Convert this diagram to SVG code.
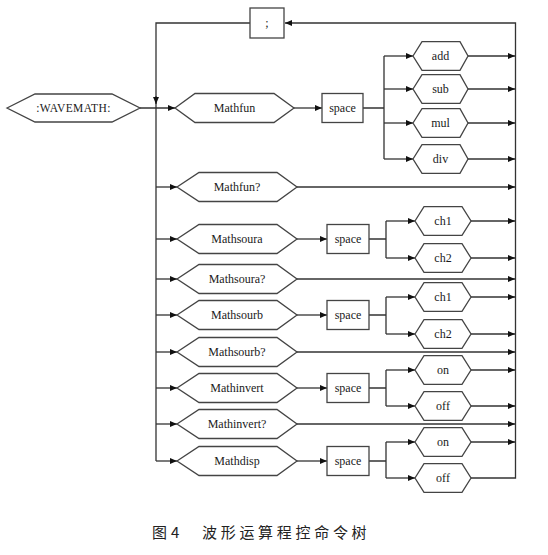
<svg xmlns="http://www.w3.org/2000/svg" width="548" height="555" viewBox="0 0 548 555">
<style>
.n{fill:#fff;stroke:#444;stroke-width:1.3}
.t{font-family:'Liberation Serif','Times New Roman',serif;font-size:12px;fill:#1a1a1a;text-anchor:middle;dominant-baseline:central}
.c{fill:none;stroke:#333;stroke-width:1.3}
.cap{font-family:'Noto Sans CJK SC',sans-serif;font-size:15px;fill:#222}
</style>
<defs>
<marker id="a" markerWidth="8" markerHeight="8" refX="7" refY="4" orient="auto" markerUnits="userSpaceOnUse"><path d="M0,1 L7,4 L0,7 z" fill="#111"/></marker>
</defs>
<rect width="548" height="555" fill="#fff"/>
<g id="connectors">
<path class="c" d="M471,478 H515.5 V23 H285" marker-end="url(#a)"/>
<path class="c" d="M250,23 H156 V461"/>
<path class="c" d="M156,96 V104" marker-end="url(#a)"/>
<path class="c" d="M140,108 H175" marker-end="url(#a)"/>
<path class="c" d="M156,187 H177" marker-end="url(#a)"/>
<path class="c" d="M156,239 H177" marker-end="url(#a)"/>
<path class="c" d="M156,279 H177" marker-end="url(#a)"/>
<path class="c" d="M156,315 H177" marker-end="url(#a)"/>
<path class="c" d="M156,352 H177" marker-end="url(#a)"/>
<path class="c" d="M156,388 H177" marker-end="url(#a)"/>
<path class="c" d="M156,424 H177" marker-end="url(#a)"/>
<path class="c" d="M156,461 H177" marker-end="url(#a)"/>
<path class="c" d="M294,108 H322" marker-end="url(#a)"/>
<path class="c" d="M363,108 H384 M384,56 V159"/>
<path class="c" d="M384,56 H413" marker-end="url(#a)"/>
<path class="c" d="M384,89 H413" marker-end="url(#a)"/>
<path class="c" d="M384,123 H413" marker-end="url(#a)"/>
<path class="c" d="M384,159 H413" marker-end="url(#a)"/>
<path class="c" d="M468,56 H515" marker-end="url(#a)"/>
<path class="c" d="M468,89 H515" marker-end="url(#a)"/>
<path class="c" d="M468,123 H515" marker-end="url(#a)"/>
<path class="c" d="M468,159 H515" marker-end="url(#a)"/>
<path class="c" d="M297,187 H515" marker-end="url(#a)"/>
<path class="c" d="M297,279 H515" marker-end="url(#a)"/>
<path class="c" d="M297,352 H515" marker-end="url(#a)"/>
<path class="c" d="M297,424 H515" marker-end="url(#a)"/>
<path class="c" d="M297,239 H327" marker-end="url(#a)"/>
<path class="c" d="M297,315 H327" marker-end="url(#a)"/>
<path class="c" d="M297,388 H327" marker-end="url(#a)"/>
<path class="c" d="M297,461 H327" marker-end="url(#a)"/>
<path class="c" d="M369,239 H386 M386,221 V258 M369,315 H386 M386,297 V334 M369,388 H386 M386,370 V406 M369,461 H386 M386,442 V478"/>
<path class="c" d="M386,221 H415" marker-end="url(#a)"/>
<path class="c" d="M386,258 H415" marker-end="url(#a)"/>
<path class="c" d="M386,297 H415" marker-end="url(#a)"/>
<path class="c" d="M386,334 H415" marker-end="url(#a)"/>
<path class="c" d="M386,370 H415" marker-end="url(#a)"/>
<path class="c" d="M386,406 H415" marker-end="url(#a)"/>
<path class="c" d="M386,442 H415" marker-end="url(#a)"/>
<path class="c" d="M386,478 H415" marker-end="url(#a)"/>
<path class="c" d="M471,221 H515" marker-end="url(#a)"/>
<path class="c" d="M471,258 H515" marker-end="url(#a)"/>
<path class="c" d="M471,297 H515" marker-end="url(#a)"/>
<path class="c" d="M471,334 H515" marker-end="url(#a)"/>
<path class="c" d="M471,370 H515" marker-end="url(#a)"/>
<path class="c" d="M471,406 H515" marker-end="url(#a)"/>
<path class="c" d="M471,442 H515" marker-end="url(#a)"/>
</g>
<g id="semicolon"><rect class="n" x="250" y="8" width="34" height="30"/><text class="t" x="267" y="23">;</text></g>
<g id="wavemath"><polygon class="n" points="7,108 35,94 112,94 140,108 112,122 35,122"/><text class="t" x="73.5" y="108" style="font-size:11.5px;letter-spacing:0.4px">:WAVEMATH:</text></g>
<g id="mathfun"><polygon class="n" points="175,108 195,93.5 274,93.5 294,108 274,122.5 195,122.5"/><text class="t" x="234.5" y="108">Mathfun</text></g>
<g id="space1"><rect class="n" x="322" y="93.5" width="41" height="29"/><text class="t" x="342.5" y="108">space</text></g>
<g id="add"><polygon class="n" points="413,56 422,41.7 460,41.7 468,56 460,70.3 422,70.3"/><text class="t" x="440.5" y="56">add</text></g>
<g id="sub"><polygon class="n" points="413,89 422,74.7 460,74.7 468,89 460,103.3 422,103.3"/><text class="t" x="440.5" y="89">sub</text></g>
<g id="mul"><polygon class="n" points="413,123 422,108.7 460,108.7 468,123 460,137.3 422,137.3"/><text class="t" x="440.5" y="123">mul</text></g>
<g id="div"><polygon class="n" points="413,159 422,144.7 460,144.7 468,159 460,173.3 422,173.3"/><text class="t" x="440.5" y="159">div</text></g>
<g id="mathfunq"><polygon class="n" points="177,187 199,172.5 277,172.5 297,187 277,201.5 199,201.5"/><text class="t" x="237" y="187">Mathfun?</text></g>
<g id="mathsoura"><polygon class="n" points="177,239 199,224.5 277,224.5 297,239 277,253.5 199,253.5"/><text class="t" x="237" y="239">Mathsoura</text></g>
<g id="space2"><rect class="n" x="327" y="224.5" width="42" height="29"/><text class="t" x="348" y="239">space</text></g>
<g id="ch1a"><polygon class="n" points="415,221 424,206.7 462,206.7 471,221 462,235.3 424,235.3"/><text class="t" x="443" y="221">ch1</text></g>
<g id="ch2a"><polygon class="n" points="415,258 424,243.7 462,243.7 471,258 462,272.3 424,272.3"/><text class="t" x="443" y="258">ch2</text></g>
<g id="mathsouraq"><polygon class="n" points="177,279 199,264.5 277,264.5 297,279 277,293.5 199,293.5"/><text class="t" x="237" y="279">Mathsoura?</text></g>
<g id="mathsourb"><polygon class="n" points="177,315 199,300.5 277,300.5 297,315 277,329.5 199,329.5"/><text class="t" x="237" y="315">Mathsourb</text></g>
<g id="space3"><rect class="n" x="327" y="300.5" width="42" height="29"/><text class="t" x="348" y="315">space</text></g>
<g id="ch1b"><polygon class="n" points="415,297 424,282.7 462,282.7 471,297 462,311.3 424,311.3"/><text class="t" x="443" y="297">ch1</text></g>
<g id="ch2b"><polygon class="n" points="415,334 424,319.7 462,319.7 471,334 462,348.3 424,348.3"/><text class="t" x="443" y="334">ch2</text></g>
<g id="mathsourbq"><polygon class="n" points="177,352 199,337.5 277,337.5 297,352 277,366.5 199,366.5"/><text class="t" x="237" y="352">Mathsourb?</text></g>
<g id="mathinvert"><polygon class="n" points="177,388 199,373.5 277,373.5 297,388 277,402.5 199,402.5"/><text class="t" x="237" y="388">Mathinvert</text></g>
<g id="space4"><rect class="n" x="327" y="373.5" width="42" height="29"/><text class="t" x="348" y="388">space</text></g>
<g id="on1"><polygon class="n" points="415,370 424,355.7 462,355.7 471,370 462,384.3 424,384.3"/><text class="t" x="443" y="370">on</text></g>
<g id="off1"><polygon class="n" points="415,406 424,391.7 462,391.7 471,406 462,420.3 424,420.3"/><text class="t" x="443" y="406">off</text></g>
<g id="mathinvertq"><polygon class="n" points="177,424 199,409.5 277,409.5 297,424 277,438.5 199,438.5"/><text class="t" x="237" y="424">Mathinvert?</text></g>
<g id="mathdisp"><polygon class="n" points="177,461 199,446.5 277,446.5 297,461 277,475.5 199,475.5"/><text class="t" x="237" y="461">Mathdisp</text></g>
<g id="space5"><rect class="n" x="327" y="446.5" width="42" height="29"/><text class="t" x="348" y="461">space</text></g>
<g id="on2"><polygon class="n" points="415,442 424,427.7 462,427.7 471,442 462,456.3 424,456.3"/><text class="t" x="443" y="442">on</text></g>
<g id="off2"><polygon class="n" points="415,478 424,463.7 462,463.7 471,478 462,492.3 424,492.3"/><text class="t" x="443" y="478">off</text></g>
<g id="caption"><text class="cap" x="152" y="538" style="letter-spacing:4px">图4</text><text class="cap" x="202" y="538" style="letter-spacing:3.7px">波形运算程控命令树</text></g>
</svg>
